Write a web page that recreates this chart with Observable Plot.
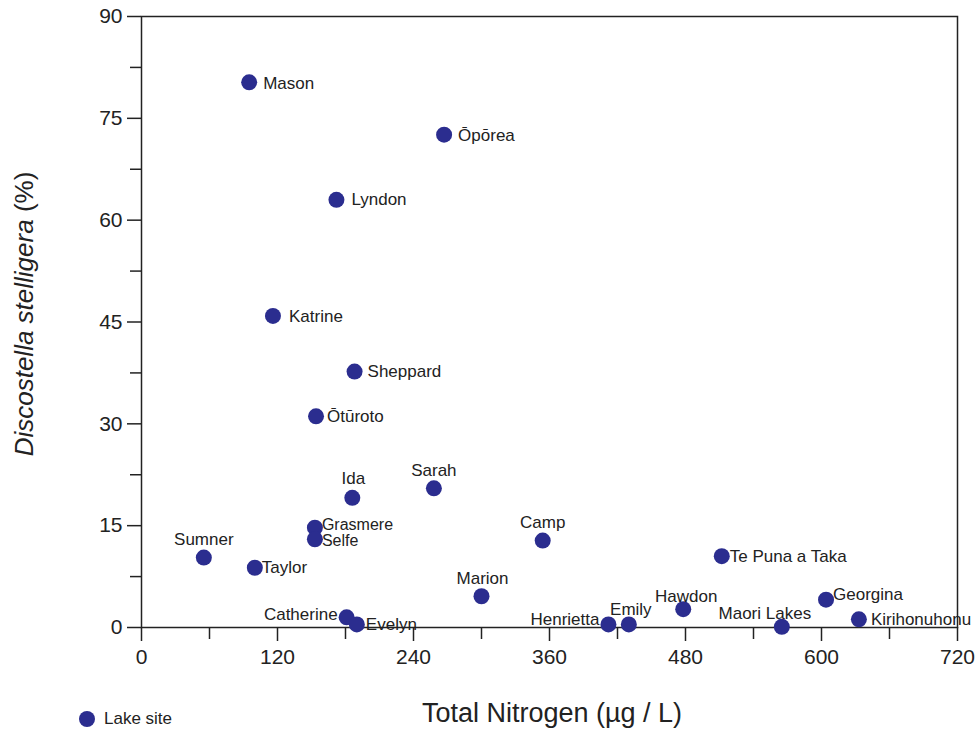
<!DOCTYPE html>
<html>
<head>
<meta charset="utf-8">
<script src="https://cdn.jsdelivr.net/npm/d3@7"></script>
<script src="https://cdn.jsdelivr.net/npm/@observablehq/plot@0.6"></script>
<style>
  html, body { margin: 0; padding: 0; background: #fff; }
  #wrap { position: relative; width: 979px; height: 733px; font-family: "Liberation Sans", Arial, sans-serif; }
  #legend { position: absolute; left: 79px; top: 709px; display: flex; align-items: center; font-size: 17px; color: #222; }
  #legend .sw { width: 16px; height: 16px; border-radius: 50%; background: #2b2d8f; margin-right: 9px; }
</style>
</head>
<body>
<div id="wrap"></div>
<script>
// ---- data ----
const lakes = ["Mason","Ōpōrea","Lyndon","Katrine","Sheppard","Ōtūroto","Ida","Sarah","Grasmere","Selfe","Sumner","Taylor","Camp","Te Puna a Taka","Marion","Catherine","Evelyn","Henrietta","Emily","Hawdon","Maori Lakes","Georgina","Kirihonuhonu"];
const totalNitrogen = [95, 267, 172, 116, 188, 154, 186, 258, 153, 153, 55, 100, 354, 512, 300, 181, 190, 412, 430, 478, 565, 604, 633];
const discostella = [80.3, 72.6, 63.0, 45.9, 37.7, 31.1, 19.1, 20.5, 14.7, 13.0, 10.3, 8.8, 12.8, 10.5, 4.6, 1.5, 0.45, 0.45, 0.45, 2.7, 0.1, 4.1, 1.2];
const xTicks = [0, 120, 240, 360, 480, 600, 720];
const xMinorTicks = [60, 180, 300, 420, 540, 660];
const yTicks = [0, 15, 30, 45, 60, 75, 90];
const yMinorTicks = [7.5, 22.5, 37.5, 52.5, 67.5, 82.5];

// label placement (layout config): [dx, dy, anchor]
const place = {
  "Mason": [14, 1, "start"], "Ōpōrea": [14, 1, "start"], "Lyndon": [15, 0, "start"],
  "Katrine": [16, 1, "start"], "Sheppard": [13, 0, "start"], "Ōtūroto": [11, 0, "start"],
  "Kirihonuhonu": [12, 0, "start"], "Evelyn": [9, 0, "start"],
  "Taylor": [7, 0, "start"], "Grasmere": [7, -3, "start"], "Selfe": [7, 2, "start"],
  "Te Puna a Taka": [8, 0, "start"], "Georgina": [7, -5, "start"],
  "Sumner": [0, -18, "middle"], "Ida": [1, -19, "middle"], "Sarah": [0, -18, "middle"],
  "Camp": [0, -18, "middle"], "Marion": [1, -18, "middle"], "Emily": [2, -15, "middle"],
  "Hawdon": [3, -13, "middle"], "Maori Lakes": [-17, -13, "middle"],
  "Catherine": [-9, -3, "end"], "Henrietta": [-9, -5, "end"]
};

const data = lakes.map((name, i) => ({name, tn: totalNitrogen[i], ds: discostella[i]}));
const col = "#2b2d8f";
const ink = "#222";

const labelMarks = data.map(d => {
  const [dx, dy, anchor] = place[d.name];
  const fs = (d.name === "Grasmere" || d.name === "Selfe") ? 16 : 17;
  return Plot.text([d], {x: "tn", y: "ds", text: "name", dx, dy, textAnchor: anchor, fontSize: fs, fill: ink});
});

const chart = Plot.plot({
  width: 979, height: 733,
  marginLeft: 141, marginRight: 22, marginTop: 16, marginBottom: 106,
  style: {fontFamily: "'Liberation Sans', Arial, sans-serif", fontSize: "21px", color: ink, background: "#fff"},
  x: {domain: [0, 720]},
  y: {domain: [0, 90]},
  marks: [
    Plot.frame({stroke: ink, strokeWidth: 1.5}),
    Plot.axisX({ticks: xTicks, tickSize: 14, tickPadding: 8, tickFormat: d => String(d), label: null, strokeWidth: 1.5}),
    Plot.axisX({ticks: xMinorTicks, tickSize: 12, tickFormat: () => "", label: null, strokeWidth: 1.5}),
    Plot.axisY({ticks: yTicks, tickSize: 14, tickPadding: 5, tickFormat: d => String(d), label: null, strokeWidth: 1.5}),
    Plot.axisY({ticks: yMinorTicks, tickSize: 11, tickFormat: () => "", label: null, strokeWidth: 1.5}),
    Plot.dot(data, {x: "tn", y: "ds", r: 8, fill: col, stroke: "none"}),
    ...labelMarks
  ]
});

const svg = d3.select(chart);
// y-axis title with italic species name
const yt = svg.append("text")
  .attr("transform", "translate(33,314) rotate(-90)")
  .attr("text-anchor", "middle")
  .attr("font-size", 26)
  .attr("fill", ink);
yt.append("tspan").attr("font-style", "italic").text("Discostella stelligera");
yt.append("tspan").text(" (%)");
// x-axis title
svg.append("text")
  .attr("x", 552).attr("y", 722)
  .attr("text-anchor", "middle")
  .attr("font-size", 27)
  .attr("fill", ink)
  .text("Total Nitrogen (µg / L)");

const wrap = document.getElementById("wrap");
wrap.appendChild(chart);
const lg = document.createElement("div");
lg.id = "legend";
lg.innerHTML = '<span class="sw"></span><span>Lake site</span>';
wrap.appendChild(lg);
</script>
</body>
</html>
